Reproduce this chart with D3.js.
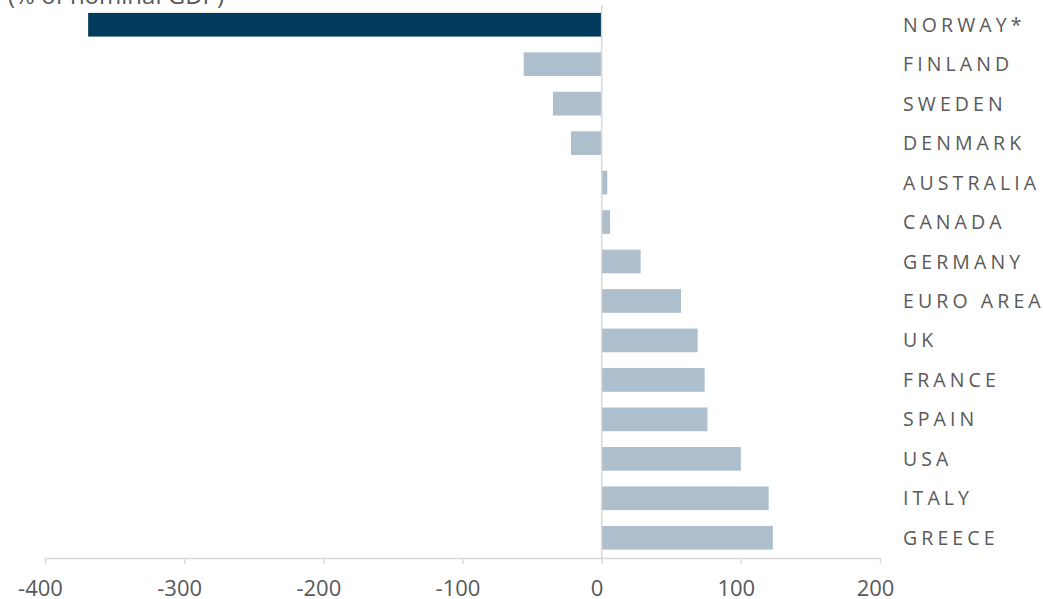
<!DOCTYPE html>
<html>
<head>
<meta charset="utf-8">
<script src="https://cdn.jsdelivr.net/npm/d3@7"></script>
<style>
  html, body { margin: 0; padding: 0; background: #ffffff; }
  svg { display: block; }
</style>
</head>
<body>
<svg id="chart" width="1043" height="599"></svg>
<script>
// Net public debt by country (% of nominal GDP)
const countries = ["NORWAY*", "FINLAND", "SWEDEN", "DENMARK", "AUSTRALIA", "CANADA",
  "GERMANY", "EURO AREA", "UK", "FRANCE", "SPAIN", "USA", "ITALY", "GREECE"];
const debtValues = [-369, -56, -35, -22, 4, 6, 28, 57, 69, 74, 76, 100, 120, 123];
const highlighted = ["NORWAY*"];
const tickValues = [-400, -300, -200, -100, 0, 100, 200];
const unitLabel = "(% of nominal GDP)";

const svg = d3.select("#chart");
const textColor = "#595959";
const gridColor = "#d9d9d9";

const x = d3.scaleLinear().domain([-400, 200]).range([45, 880]);
const y = d3.scaleBand().domain(countries).range([5, 557.5])
  .paddingInner(0.4).paddingOuter(0.2);

const rows = countries.map((c, i) => ({ country: c, value: debtValues[i] }));

// Unit label, running off the top edge
svg.append("text")
  .attr("x", 8).attr("y", 4)
  .attr("font-family", "'Open Sans', sans-serif")
  .attr("font-size", 24)
  .attr("fill", textColor)
  .text(unitLabel);

// Bars
svg.append("g").selectAll("rect")
  .data(rows)
  .join("rect")
  .attr("x", d => x(Math.min(0, d.value)))
  .attr("y", d => y(d.country))
  .attr("width", d => Math.abs(x(d.value) - x(0)))
  .attr("height", y.bandwidth())
  .attr("fill", d => highlighted.includes(d.country) ? "#003b5c" : "#adbfcc");

// Zero line
svg.append("line")
  .attr("x1", x(0)).attr("x2", x(0))
  .attr("y1", 5).attr("y2", 558)
  .attr("stroke", gridColor).attr("stroke-width", 1.5);

// Horizontal value axis (plain hyphen for negatives)
const axis = d3.axisBottom(x).tickValues(tickValues).tickSize(6).tickSizeOuter(0)
  .tickFormat(d => String(d));
const gAxis = svg.append("g").attr("transform", "translate(0,558)").call(axis);
gAxis.select(".domain").attr("stroke", gridColor).attr("stroke-width", 1.5);
gAxis.selectAll(".tick line").attr("stroke", gridColor).attr("stroke-width", 1.5);
gAxis.selectAll(".tick text")
  .attr("font-family", "'Open Sans', sans-serif")
  .attr("font-size", 22)
  .attr("fill", textColor)
  .attr("dx", -5)
  .attr("dy", 0)
  .attr("y", 38);

// Country labels on the right
svg.append("g").selectAll("text")
  .data(rows)
  .join("text")
  .attr("x", 903)
  .attr("y", d => y(d.country) + y.bandwidth() / 2 + 7)
  .attr("font-family", "'Open Sans', sans-serif")
  .attr("font-size", 19.5)
  .attr("letter-spacing", "4.1px")
  .attr("fill", textColor)
  .text(d => d.country);
</script>
</body>
</html>
